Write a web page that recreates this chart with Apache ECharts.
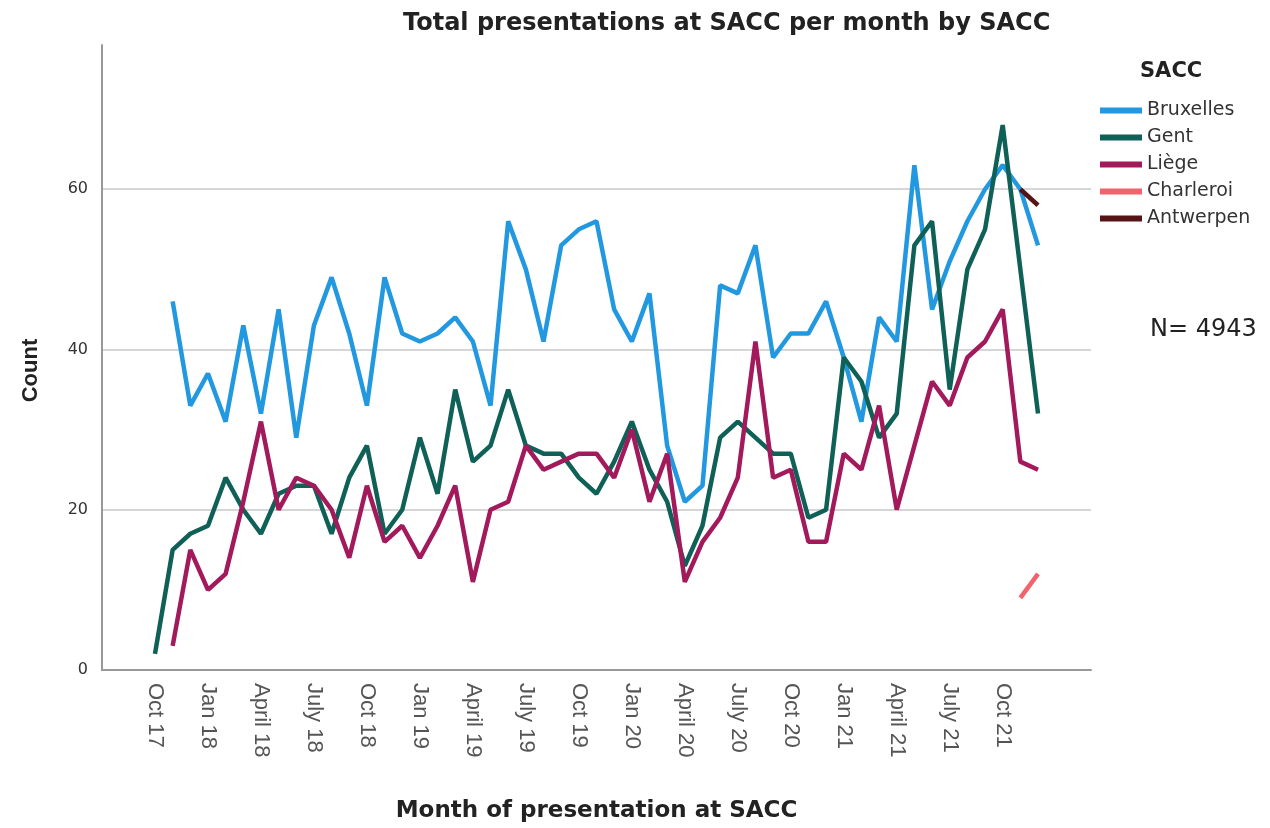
<!DOCTYPE html>
<html>
<head>
<meta charset="utf-8">
<script src="https://cdn.jsdelivr.net/npm/echarts@6/dist/echarts.min.js"></script>
<style>
  html, body { margin: 0; padding: 0; background: #fff; }
  #chart { width: 1270px; height: 828px; }
</style>
</head>
<body>
<div id="chart"></div>
<script>
// months on the axis, with 3 empty months of padding at each end
const months = [
  'July 17', 'Aug 17', 'Sep 17', 'Oct 17', 'Nov 17', 'Dec 17',
  'Jan 18', 'Feb 18', 'Mar 18', 'April 18', 'May 18', 'June 18', 'July 18', 'Aug 18', 'Sep 18', 'Oct 18', 'Nov 18', 'Dec 18',
  'Jan 19', 'Feb 19', 'Mar 19', 'April 19', 'May 19', 'June 19', 'July 19', 'Aug 19', 'Sep 19', 'Oct 19', 'Nov 19', 'Dec 19',
  'Jan 20', 'Feb 20', 'Mar 20', 'April 20', 'May 20', 'June 20', 'July 20', 'Aug 20', 'Sep 20', 'Oct 20', 'Nov 20', 'Dec 20',
  'Jan 21', 'Feb 21', 'Mar 21', 'April 21', 'May 21', 'June 21', 'July 21', 'Aug 21', 'Sep 21', 'Oct 21', 'Nov 21', 'Dec 21',
  'Jan 22', 'Feb 22', 'Mar 22'
]

// monthly counts, Oct 17 .. Dec 21
const bruxelles = [null, 46, 33, 37, 31, 43, 32, 45, 29, 43,
  49, 42, 33, 49, 42, 41, 42, 44, 41, 33,
  56, 50, 41, 53, 55, 56, 45, 41, 47, 28,
  21, 23, 48, 47, 53, 39, 42, 42, 46, 39,
  31, 44, 41, 63, 45, 51, 56, 60, 63, 60, 53]
const gent = [2, 15, 17, 18, 24, 20, 17, 22, 23, 23,
  17, 24, 28, 17, 20, 29, 22, 35, 26, 28,
  35, 28, 27, 27, 24, 22, 26, 31, 25, 21,
  13, 18, 29, 31, 29, 27, 27, 19, 20, 39,
  36, 29, 32, 53, 56, 35, 50, 55, 68, 50, 32]
const liege = [null, 3, 15, 10, 12, 21, 31, 20, 24, 23,
  20, 14, 23, 16, 18, 14, 18, 23, 11, 20,
  21, 28, 25, 26, 27, 27, 24, 30, 21, 27,
  11, 16, 19, 24, 41, 24, 25, 16, 16, 27,
  25, 33, 20, 28, 36, 33, 39, 41, 45, 26, 25]
const charleroi = [...Array(49).fill(null), 9, 12]
const antwerpen = [...Array(49).fill(null), 60, 58]

const names = ['Bruxelles', 'Gent', 'Liège', 'Charleroi', 'Antwerpen']
const colors = ['#2298e0', '#0f6057', '#a21a5b', '#f2636e', '#561417']
const yTicks = [0, 20, 40, 60]

const pad = arr => [null, null, null, ...arr, null, null, null]
const wide = '"DejaVu Sans", "Liberation Sans", sans-serif'
const narrow = '"Liberation Sans", Arial, sans-serif'

const chart = echarts.init(document.getElementById('chart'))
chart.setOption({
  animation: false,
  backgroundColor: '#fff',
  textStyle: { fontFamily: narrow },
  title: [
    { text: 'Total presentations at SACC per month by SACC', left: 403, top: 12, padding: 0,
      textStyle: { fontSize: 24, fontWeight: 'bold', color: '#222', fontFamily: wide } },
    { text: 'SACC', left: 1140, top: 61, padding: 0,
      textStyle: { fontSize: 21, fontWeight: 'bold', color: '#222', fontFamily: wide } },
    { text: 'N= 4943', left: 1150, top: 318, padding: 0,
      textStyle: { fontSize: 24, fontWeight: 'normal', color: '#222', fontFamily: wide } }
  ],
  legend: {
    orient: 'vertical', left: 1100, top: 101, padding: 0,
    icon: 'rect', itemWidth: 42, itemHeight: 6, itemGap: 8,
    textStyle: { fontSize: 19, color: '#333', fontFamily: wide },
    data: names
  },
  grid: { left: 102, right: 179, top: 45, bottom: 158, outerBoundsMode: 'none' },
  xAxis: {
    type: 'category', data: months, boundaryGap: false,
    axisLine: { lineStyle: { color: '#999', width: 2 } },
    axisTick: { show: false },
    axisLabel: {
      interval: i => i >= 3 && i <= 51 && i % 3 === 0,
      rotate: -90, fontSize: 22, color: '#555', margin: 13, fontFamily: narrow
    },
    name: 'Month of presentation at SACC', nameLocation: 'middle', nameGap: 130,
    nameTextStyle: { fontSize: 23, fontWeight: 'bold', color: '#222', fontFamily: wide }
  },
  yAxis: {
    type: 'value', min: 0, max: 78, interval: 20,
    axisLine: { show: true, lineStyle: { color: '#999', width: 2 } },
    axisTick: { show: false },
    splitLine: { showMaxLine: false, lineStyle: { color: '#d6d6d6', width: 2 } },
    axisLabel: { fontSize: 16, color: '#333', margin: 14, fontFamily: wide,
      formatter: v => yTicks.includes(v) ? String(v) : '' },
    name: 'Count', nameLocation: 'middle', nameGap: 60,
    nameTextStyle: { fontSize: 22, fontWeight: 'bold', color: '#222', fontFamily: narrow,
      padding: [0, 26, 0, 0] }
  },
  series: [bruxelles, gent, liege, charleroi, antwerpen].map((d, i) => ({
    name: names[i], type: 'line', data: pad(d),
    showSymbol: false, symbol: 'none', connectNulls: false,
    lineStyle: { color: colors[i], width: 4.5 },
    itemStyle: { color: colors[i] }
  }))
})
</script>
</body>
</html>
